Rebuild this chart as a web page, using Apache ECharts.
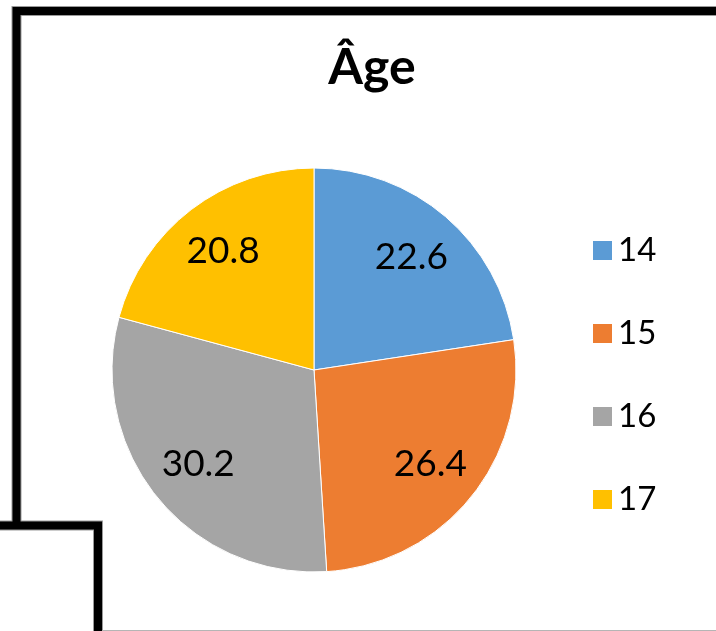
<!DOCTYPE html>
<html>
<head>
<meta charset="utf-8">
<script src="https://cdn.jsdelivr.net/npm/echarts@6/dist/echarts.min.js"></script>
<style>
html,body{margin:0;padding:0;background:#fff;}
#main{width:716px;height:631px;}
</style>
</head>
<body>
<div id="main"></div>
<script>
const titleText = 'Âge';
const categories = ['14', '15', '16', '17'];
const values = [22.6, 26.4, 30.2, 20.8];
const colors = ['#5B9BD5', '#ED7D31', '#A5A5A5', '#FFC000'];

const FONT = 'Lato, "Open Sans", sans-serif';
const R = 202;
const data = categories.map((c, i) => ({ name: c, value: values[i], itemStyle: { color: colors[i] } }));

const chart = echarts.init(document.getElementById('main'), null, { renderer: 'canvas' });
chart.setOption({
  animation: false,
  backgroundColor: '#fff',
  title: {
    text: titleText,
    left: 367,
    top: 38,
    textAlign: 'center',
    textStyle: { fontFamily: FONT, fontWeight: 'bold', fontSize: 50, color: '#000' }
  },
  legend: {
    orient: 'vertical',
    left: 591,
    top: 234,
    padding: 0,
    icon: 'rect',
    itemWidth: 21,
    itemHeight: 21,
    itemGap: 50,
    textStyle: { fontFamily: FONT, fontSize: 33, color: '#000', lineHeight: 33, padding: [0, 0, 0, 0] },
    data: categories,
    selectedMode: false
  },
  graphic: [
    { type: 'polyline', silent: true, shape: { points: [[716, 11], [16.5, 11], [16.5, 525.5]] }, style: { stroke: '#9a9a9a', lineWidth: 10, fill: null } },
    { type: 'polyline', silent: true, shape: { points: [[0, 525.5], [98, 525.5], [98, 631]] }, style: { stroke: '#9a9a9a', lineWidth: 10, fill: null } },
    { type: 'polyline', silent: true, shape: { points: [[716, 11], [16.5, 11], [16.5, 525.5]] }, style: { stroke: '#000', lineWidth: 8, fill: null } },
    { type: 'polyline', silent: true, shape: { points: [[0, 525.5], [98, 525.5], [98, 631]] }, style: { stroke: '#000', lineWidth: 8, fill: null } },
    { type: 'line', silent: true, shape: { x1: 102, y1: 630.5, x2: 716, y2: 630.5 }, style: { stroke: '#b5b5b5', lineWidth: 1 } }
  ],
  series: [
    {
      type: 'pie',
      center: [314, 370],
      radius: [0, R],
      startAngle: 90,
      clockwise: true,
      silent: true,
      itemStyle: { borderColor: '#ffffff', borderWidth: 1 },
      label: { show: false },
      labelLine: { show: false },
      data: data
    },
    {
      type: 'pie',
      center: [314, 370],
      radius: [R * 0.45, R],
      startAngle: 90,
      clockwise: true,
      silent: true,
      legendHoverLink: false,
      itemStyle: { color: 'rgba(0,0,0,0)', borderWidth: 0 },
      label: {
        show: true,
        position: 'inside',
        formatter: p => p.value.toFixed(1),
        fontFamily: FONT,
        fontSize: 37,
        color: '#000'
      },
      labelLine: { show: false },
      data: categories.map((c, i) => ({ name: c, value: values[i] }))
    }
  ]
});
</script>
</body>
</html>
